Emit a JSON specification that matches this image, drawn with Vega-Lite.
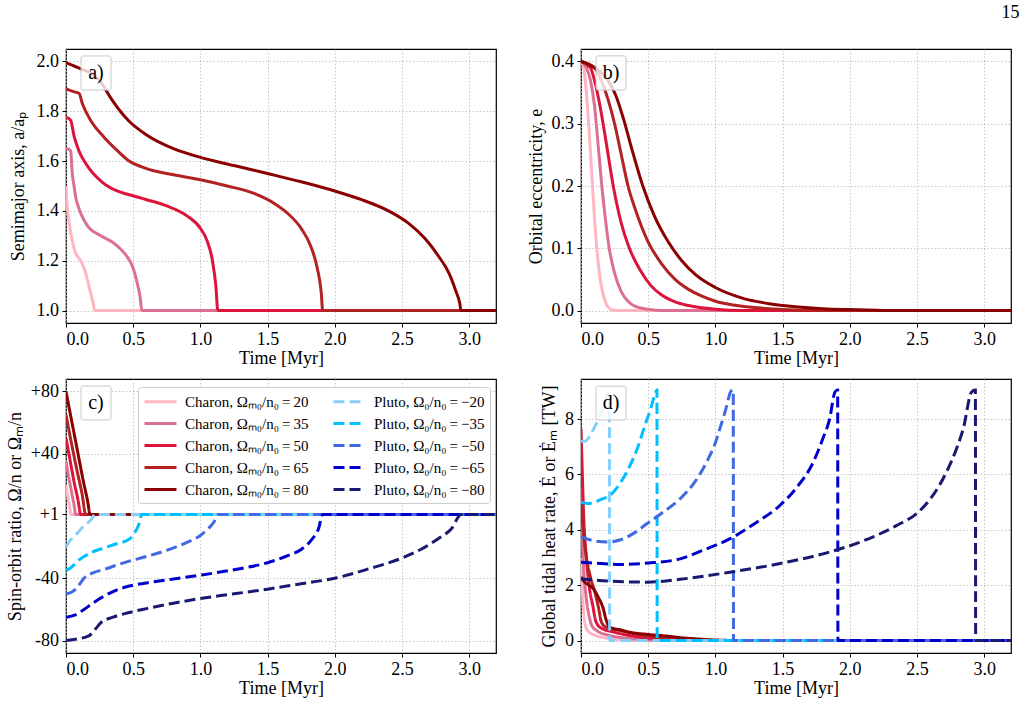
{
"$schema": "https://vega.github.io/schema/vega-lite/v6.json",
"padding": {"left": 5, "top": 4, "right": 5, "bottom": 5},
"background": "white",
"title": {"text": "15", "anchor": "end", "frame": "bounds", "font": "Liberation Serif", "fontSize": 18, "fontWeight": "normal", "color": "black", "offset": 26, "dx": 8},
"config": {
  "view": {"stroke": "black", "strokeWidth": 1.2},
  "style": {"guide-label": {"font": "Liberation Serif", "fill": "black"}, "guide-title": {"font": "Liberation Serif", "fill": "black"}},
  "axis": {"labelFont": "Liberation Serif", "labelFontSize": 18, "labelColor": "black", "titleFont": "Liberation Serif", "titleFontSize": 18, "titleFontWeight": "normal", "titleColor": "black", "tickColor": "black", "tickSize": 4, "domain": false, "gridColor": "#b8b8b8", "gridDash": [1.5, 2], "gridWidth": 0.8, "labelPadding": 3.5},
  "axisY": {"titlePadding": 6},
  "axisX": {"titlePadding": 1},
  "legend": {"labelFont": "Liberation Serif"}
},
"datasets": {
"a": [
{"s":"C20","t":0,"v":1.5},{"s":"C20","t":0.005,"v":1.45},{"s":"C20","t":0.012,"v":1.4},{"s":"C20","t":0.022,"v":1.36},{"s":"C20","t":0.035,"v":1.31},{"s":"C20","t":0.047,"v":1.28},{"s":"C20","t":0.06,"v":1.25},{"s":"C20","t":0.072,"v":1.23},{"s":"C20","t":0.09,"v":1.215},{"s":"C20","t":0.11,"v":1.2},{"s":"C20","t":0.13,"v":1.175},{"s":"C20","t":0.147,"v":1.15},{"s":"C20","t":0.165,"v":1.11},{"s":"C20","t":0.184,"v":1.07},{"s":"C20","t":0.2,"v":1.035},{"s":"C20","t":0.214,"v":1.0},{"s":"C20","t":3.2,"v":1.0},
{"s":"C35","t":0,"v":1.65},{"s":"C35","t":0.02,"v":1.648},{"s":"C35","t":0.035,"v":1.64},{"s":"C35","t":0.047,"v":1.55},{"s":"C35","t":0.06,"v":1.5},{"s":"C35","t":0.072,"v":1.456},{"s":"C35","t":0.09,"v":1.42},{"s":"C35","t":0.11,"v":1.39},{"s":"C35","t":0.16,"v":1.34},{"s":"C35","t":0.26,"v":1.3},{"s":"C35","t":0.357,"v":1.27},{"s":"C35","t":0.4,"v":1.25},{"s":"C35","t":0.45,"v":1.22},{"s":"C35","t":0.5,"v":1.17},{"s":"C35","t":0.53,"v":1.11},{"s":"C35","t":0.55,"v":1.06},{"s":"C35","t":0.565,"v":1.0},{"s":"C35","t":3.2,"v":1.0},
{"s":"C50","t":0,"v":1.776},{"s":"C50","t":0.035,"v":1.763},{"s":"C50","t":0.06,"v":1.7},{"s":"C50","t":0.097,"v":1.64},{"s":"C50","t":0.16,"v":1.58},{"s":"C50","t":0.26,"v":1.52},{"s":"C50","t":0.38,"v":1.48},{"s":"C50","t":0.47,"v":1.465},{"s":"C50","t":0.6,"v":1.445},{"s":"C50","t":0.75,"v":1.42},{"s":"C50","t":0.9,"v":1.38},{"s":"C50","t":1.0,"v":1.33},{"s":"C50","t":1.05,"v":1.28},{"s":"C50","t":1.09,"v":1.2},{"s":"C50","t":1.115,"v":1.1},{"s":"C50","t":1.13,"v":1.0},{"s":"C50","t":3.2,"v":1.0},
{"s":"C65","t":0,"v":1.89},{"s":"C65","t":0.05,"v":1.88},{"s":"C65","t":0.097,"v":1.872},{"s":"C65","t":0.122,"v":1.83},{"s":"C65","t":0.184,"v":1.763},{"s":"C65","t":0.283,"v":1.696},{"s":"C65","t":0.38,"v":1.643},{"s":"C65","t":0.47,"v":1.6},{"s":"C65","t":0.6,"v":1.57},{"s":"C65","t":0.8,"v":1.545},{"s":"C65","t":1.0,"v":1.525},{"s":"C65","t":1.2,"v":1.5},{"s":"C65","t":1.4,"v":1.47},{"s":"C65","t":1.55,"v":1.43},{"s":"C65","t":1.65,"v":1.39},{"s":"C65","t":1.75,"v":1.33},{"s":"C65","t":1.82,"v":1.26},{"s":"C65","t":1.87,"v":1.17},{"s":"C65","t":1.9,"v":1.07},{"s":"C65","t":1.91,"v":1.0},{"s":"C65","t":3.2,"v":1.0},
{"s":"C80","t":0,"v":1.995},{"s":"C80","t":0.11,"v":1.97},{"s":"C80","t":0.21,"v":1.945},{"s":"C80","t":0.26,"v":1.916},{"s":"C80","t":0.33,"v":1.856},{"s":"C80","t":0.41,"v":1.796},{"s":"C80","t":0.47,"v":1.76},{"s":"C80","t":0.6,"v":1.705},{"s":"C80","t":0.8,"v":1.65},{"s":"C80","t":1.0,"v":1.615},{"s":"C80","t":1.25,"v":1.582},{"s":"C80","t":1.5,"v":1.55},{"s":"C80","t":1.75,"v":1.517},{"s":"C80","t":2.0,"v":1.48},{"s":"C80","t":2.2,"v":1.445},{"s":"C80","t":2.4,"v":1.4},{"s":"C80","t":2.55,"v":1.35},{"s":"C80","t":2.67,"v":1.29},{"s":"C80","t":2.77,"v":1.22},{"s":"C80","t":2.85,"v":1.15},{"s":"C80","t":2.9,"v":1.08},{"s":"C80","t":2.93,"v":1.03},{"s":"C80","t":2.94,"v":1.0},{"s":"C80","t":3.2,"v":1.0}
],
"b": [
{"s":"C20","t":0,"v":0.4},{"s":"C20","t":0.02,"v":0.39},{"s":"C20","t":0.04,"v":0.35},{"s":"C20","t":0.06,"v":0.29},{"s":"C20","t":0.08,"v":0.22},{"s":"C20","t":0.1,"v":0.15},{"s":"C20","t":0.12,"v":0.095},{"s":"C20","t":0.14,"v":0.055},{"s":"C20","t":0.16,"v":0.03},{"s":"C20","t":0.18,"v":0.015},{"s":"C20","t":0.2,"v":0.006},{"s":"C20","t":0.23,"v":0.001},{"s":"C20","t":0.3,"v":0},{"s":"C20","t":3.2,"v":0},
{"s":"C35","t":0,"v":0.4},{"s":"C35","t":0.04,"v":0.39},{"s":"C35","t":0.07,"v":0.37},{"s":"C35","t":0.1,"v":0.33},{"s":"C35","t":0.13,"v":0.26},{"s":"C35","t":0.155,"v":0.2},{"s":"C35","t":0.18,"v":0.15},{"s":"C35","t":0.21,"v":0.1},{"s":"C35","t":0.25,"v":0.06},{"s":"C35","t":0.3,"v":0.03},{"s":"C35","t":0.35,"v":0.015},{"s":"C35","t":0.4,"v":0.007},{"s":"C35","t":0.5,"v":0.002},{"s":"C35","t":0.6,"v":0},{"s":"C35","t":3.2,"v":0},
{"s":"C50","t":0,"v":0.4},{"s":"C50","t":0.07,"v":0.39},{"s":"C50","t":0.1,"v":0.37},{"s":"C50","t":0.14,"v":0.33},{"s":"C50","t":0.18,"v":0.28},{"s":"C50","t":0.24,"v":0.2},{"s":"C50","t":0.3,"v":0.14},{"s":"C50","t":0.36,"v":0.1},{"s":"C50","t":0.44,"v":0.065},{"s":"C50","t":0.52,"v":0.04},{"s":"C50","t":0.6,"v":0.025},{"s":"C50","t":0.7,"v":0.014},{"s":"C50","t":0.8,"v":0.008},{"s":"C50","t":1.0,"v":0.002},{"s":"C50","t":1.2,"v":0},{"s":"C50","t":3.2,"v":0},
{"s":"C65","t":0,"v":0.4},{"s":"C65","t":0.1,"v":0.39},{"s":"C65","t":0.15,"v":0.37},{"s":"C65","t":0.2,"v":0.34},{"s":"C65","t":0.25,"v":0.3},{"s":"C65","t":0.3,"v":0.25},{"s":"C65","t":0.35,"v":0.2},{"s":"C65","t":0.4,"v":0.165},{"s":"C65","t":0.5,"v":0.11},{"s":"C65","t":0.6,"v":0.075},{"s":"C65","t":0.7,"v":0.05},{"s":"C65","t":0.8,"v":0.034},{"s":"C65","t":0.9,"v":0.023},{"s":"C65","t":1.0,"v":0.015},{"s":"C65","t":1.2,"v":0.007},{"s":"C65","t":1.4,"v":0.003},{"s":"C65","t":1.6,"v":0.001},{"s":"C65","t":2.0,"v":0},{"s":"C65","t":3.2,"v":0},
{"s":"C80","t":0,"v":0.4},{"s":"C80","t":0.1,"v":0.39},{"s":"C80","t":0.2,"v":0.37},{"s":"C80","t":0.26,"v":0.345},{"s":"C80","t":0.32,"v":0.305},{"s":"C80","t":0.38,"v":0.258},{"s":"C80","t":0.46,"v":0.2},{"s":"C80","t":0.55,"v":0.15},{"s":"C80","t":0.65,"v":0.11},{"s":"C80","t":0.75,"v":0.08},{"s":"C80","t":0.85,"v":0.058},{"s":"C80","t":1.0,"v":0.037},{"s":"C80","t":1.2,"v":0.02},{"s":"C80","t":1.4,"v":0.011},{"s":"C80","t":1.6,"v":0.006},{"s":"C80","t":1.8,"v":0.003},{"s":"C80","t":2.0,"v":0.0015},{"s":"C80","t":2.3,"v":0},{"s":"C80","t":3.2,"v":0}
],
"c": [
{"s":"C20","t":0,"v":20},{"s":"C20","t":0.01,"v":14},{"s":"C20","t":0.02,"v":9},{"s":"C20","t":0.03,"v":4},{"s":"C20","t":0.035,"v":1},{"s":"C20","t":3.2,"v":1},
{"s":"C35","t":0,"v":35},{"s":"C35","t":0.02,"v":25},{"s":"C35","t":0.04,"v":16},{"s":"C35","t":0.06,"v":7},{"s":"C35","t":0.072,"v":1},{"s":"C35","t":3.2,"v":1},
{"s":"C50","t":0,"v":50},{"s":"C50","t":0.03,"v":36},{"s":"C50","t":0.06,"v":22},{"s":"C50","t":0.09,"v":10},{"s":"C50","t":0.11,"v":1},{"s":"C50","t":3.2,"v":1},
{"s":"C65","t":0,"v":65},{"s":"C65","t":0.04,"v":47},{"s":"C65","t":0.08,"v":30},{"s":"C65","t":0.12,"v":14},{"s":"C65","t":0.147,"v":1},{"s":"C65","t":3.2,"v":1},
{"s":"C80","t":0,"v":80},{"s":"C80","t":0.04,"v":62},{"s":"C80","t":0.085,"v":42},{"s":"C80","t":0.13,"v":22},{"s":"C80","t":0.16,"v":10},{"s":"C80","t":0.18,"v":1},{"s":"C80","t":3.2,"v":1},
{"s":"P20","t":0,"v":-20},{"s":"P20","t":0.02,"v":-17},{"s":"P20","t":0.05,"v":-14},{"s":"P20","t":0.085,"v":-11},{"s":"P20","t":0.12,"v":-7.5},{"s":"P20","t":0.16,"v":-4.5},{"s":"P20","t":0.19,"v":-2},{"s":"P20","t":0.214,"v":1},{"s":"P20","t":3.2,"v":1},
{"s":"P35","t":0,"v":-35},{"s":"P35","t":0.03,"v":-33.5},{"s":"P35","t":0.07,"v":-30.5},{"s":"P35","t":0.1,"v":-28},{"s":"P35","t":0.134,"v":-26},{"s":"P35","t":0.2,"v":-23},{"s":"P35","t":0.283,"v":-20.5},{"s":"P35","t":0.37,"v":-18},{"s":"P35","t":0.47,"v":-15},{"s":"P35","t":0.51,"v":-11},{"s":"P35","t":0.54,"v":-6},{"s":"P35","t":0.565,"v":1},{"s":"P35","t":3.2,"v":1},
{"s":"P50","t":0,"v":-50},{"s":"P50","t":0.04,"v":-49},{"s":"P50","t":0.072,"v":-47},{"s":"P50","t":0.1,"v":-44},{"s":"P50","t":0.134,"v":-40},{"s":"P50","t":0.2,"v":-36.5},{"s":"P50","t":0.283,"v":-34.4},{"s":"P50","t":0.38,"v":-31.5},{"s":"P50","t":0.47,"v":-29},{"s":"P50","t":0.6,"v":-26},{"s":"P50","t":0.75,"v":-22},{"s":"P50","t":0.9,"v":-17},{"s":"P50","t":1.0,"v":-12.5},{"s":"P50","t":1.06,"v":-8},{"s":"P50","t":1.1,"v":-4},{"s":"P50","t":1.133,"v":1},{"s":"P50","t":3.2,"v":1},
{"s":"P65","t":0,"v":-65},{"s":"P65","t":0.07,"v":-63.5},{"s":"P65","t":0.134,"v":-60},{"s":"P65","t":0.2,"v":-56},{"s":"P65","t":0.26,"v":-52.6},{"s":"P65","t":0.35,"v":-48.5},{"s":"P65","t":0.47,"v":-45},{"s":"P65","t":0.6,"v":-43},{"s":"P65","t":0.8,"v":-40.5},{"s":"P65","t":1.0,"v":-38},{"s":"P65","t":1.25,"v":-34.5},{"s":"P65","t":1.5,"v":-30},{"s":"P65","t":1.65,"v":-25.5},{"s":"P65","t":1.75,"v":-21.5},{"s":"P65","t":1.83,"v":-15},{"s":"P65","t":1.88,"v":-8},{"s":"P65","t":1.91,"v":1},{"s":"P65","t":3.2,"v":1},
{"s":"P80","t":0,"v":-80},{"s":"P80","t":0.08,"v":-79},{"s":"P80","t":0.17,"v":-77},{"s":"P80","t":0.22,"v":-72.5},{"s":"P80","t":0.26,"v":-68.5},{"s":"P80","t":0.35,"v":-65},{"s":"P80","t":0.47,"v":-62},{"s":"P80","t":0.6,"v":-59.5},{"s":"P80","t":0.8,"v":-56},{"s":"P80","t":1.0,"v":-53},{"s":"P80","t":1.25,"v":-50},{"s":"P80","t":1.5,"v":-47},{"s":"P80","t":1.75,"v":-43.5},{"s":"P80","t":2.0,"v":-40},{"s":"P80","t":2.25,"v":-34},{"s":"P80","t":2.5,"v":-27},{"s":"P80","t":2.65,"v":-21},{"s":"P80","t":2.78,"v":-14},{"s":"P80","t":2.87,"v":-8},{"s":"P80","t":2.94,"v":1},{"s":"P80","t":3.2,"v":1}
],
"d": [
{"s":"C20","t":0,"v":3.0},{"s":"C20","t":0.01,"v":1.8},{"s":"C20","t":0.02,"v":1.0},{"s":"C20","t":0.03,"v":0.6},{"s":"C20","t":0.05,"v":0.35},{"s":"C20","t":0.1,"v":0.2},{"s":"C20","t":0.2,"v":0.08},{"s":"C20","t":0.3,"v":0.03},{"s":"C20","t":0.45,"v":0},{"s":"C20","t":3.2,"v":0},
{"s":"C35","t":0,"v":5.5},{"s":"C35","t":0.01,"v":3.8},{"s":"C35","t":0.02,"v":2.6},{"s":"C35","t":0.04,"v":1.5},{"s":"C35","t":0.06,"v":0.9},{"s":"C35","t":0.08,"v":0.55},{"s":"C35","t":0.12,"v":0.35},{"s":"C35","t":0.2,"v":0.2},{"s":"C35","t":0.35,"v":0.08},{"s":"C35","t":0.5,"v":0.02},{"s":"C35","t":0.65,"v":0},{"s":"C35","t":3.2,"v":0},
{"s":"C50","t":0,"v":7.65},{"s":"C50","t":0.01,"v":6.0},{"s":"C50","t":0.02,"v":4.5},{"s":"C50","t":0.04,"v":3.0},{"s":"C50","t":0.06,"v":2.0},{"s":"C50","t":0.09,"v":1.2},{"s":"C50","t":0.11,"v":0.7},{"s":"C50","t":0.15,"v":0.45},{"s":"C50","t":0.25,"v":0.3},{"s":"C50","t":0.4,"v":0.15},{"s":"C50","t":0.6,"v":0.05},{"s":"C50","t":0.8,"v":0.01},{"s":"C50","t":0.9,"v":0},{"s":"C50","t":3.2,"v":0},
{"s":"C65","t":0,"v":5.0},{"s":"C65","t":0.02,"v":3.8},{"s":"C65","t":0.04,"v":3.0},{"s":"C65","t":0.07,"v":2.3},{"s":"C65","t":0.1,"v":1.8},{"s":"C65","t":0.13,"v":1.2},{"s":"C65","t":0.15,"v":0.7},{"s":"C65","t":0.18,"v":0.5},{"s":"C65","t":0.3,"v":0.35},{"s":"C65","t":0.45,"v":0.2},{"s":"C65","t":0.6,"v":0.1},{"s":"C65","t":0.8,"v":0.03},{"s":"C65","t":1.0,"v":0},{"s":"C65","t":3.2,"v":0},
{"s":"C80","t":0,"v":2.3},{"s":"C80","t":0.03,"v":2.1},{"s":"C80","t":0.06,"v":2.0},{"s":"C80","t":0.092,"v":1.87},{"s":"C80","t":0.13,"v":1.55},{"s":"C80","t":0.166,"v":1.15},{"s":"C80","t":0.185,"v":0.78},{"s":"C80","t":0.216,"v":0.48},{"s":"C80","t":0.3,"v":0.38},{"s":"C80","t":0.365,"v":0.3},{"s":"C80","t":0.5,"v":0.22},{"s":"C80","t":0.64,"v":0.16},{"s":"C80","t":0.75,"v":0.1},{"s":"C80","t":0.86,"v":0.06},{"s":"C80","t":1.0,"v":0.02},{"s":"C80","t":1.2,"v":0},{"s":"C80","t":3.2,"v":0},
{"s":"P20","t":0,"v":7.2},{"s":"P20","t":0.03,"v":7.2},{"s":"P20","t":0.06,"v":7.35},{"s":"P20","t":0.1,"v":7.7},{"s":"P20","t":0.14,"v":8.1},{"s":"P20","t":0.18,"v":8.6},{"s":"P20","t":0.212,"v":9.0},{"s":"P20","t":0.213,"v":0},{"s":"P20","t":3.2,"v":0},
{"s":"P35","t":0,"v":5.0},{"s":"P35","t":0.05,"v":4.95},{"s":"P35","t":0.1,"v":5.0},{"s":"P35","t":0.15,"v":5.1},{"s":"P35","t":0.216,"v":5.25},{"s":"P35","t":0.3,"v":5.75},{"s":"P35","t":0.365,"v":6.33},{"s":"P35","t":0.42,"v":6.95},{"s":"P35","t":0.476,"v":7.78},{"s":"P35","t":0.52,"v":8.4},{"s":"P35","t":0.55,"v":8.9},{"s":"P35","t":0.565,"v":9.05},{"s":"P35","t":0.567,"v":0},{"s":"P35","t":3.2,"v":0},
{"s":"P50","t":0,"v":3.74},{"s":"P50","t":0.1,"v":3.6},{"s":"P50","t":0.2,"v":3.56},{"s":"P50","t":0.3,"v":3.65},{"s":"P50","t":0.4,"v":3.9},{"s":"P50","t":0.49,"v":4.22},{"s":"P50","t":0.6,"v":4.6},{"s":"P50","t":0.737,"v":5.12},{"s":"P50","t":0.85,"v":5.75},{"s":"P50","t":0.935,"v":6.45},{"s":"P50","t":1.0,"v":7.15},{"s":"P50","t":1.034,"v":7.66},{"s":"P50","t":1.08,"v":8.4},{"s":"P50","t":1.115,"v":9.0},{"s":"P50","t":1.133,"v":9.05},{"s":"P50","t":1.135,"v":0},{"s":"P50","t":3.2,"v":0},
{"s":"P65","t":0,"v":2.83},{"s":"P65","t":0.15,"v":2.78},{"s":"P65","t":0.3,"v":2.75},{"s":"P65","t":0.5,"v":2.8},{"s":"P65","t":0.737,"v":2.95},{"s":"P65","t":0.9,"v":3.25},{"s":"P65","t":1.11,"v":3.68},{"s":"P65","t":1.3,"v":4.25},{"s":"P65","t":1.48,"v":4.88},{"s":"P65","t":1.6,"v":5.5},{"s":"P65","t":1.73,"v":6.46},{"s":"P65","t":1.8,"v":7.3},{"s":"P65","t":1.85,"v":8.0},{"s":"P65","t":1.89,"v":8.98},{"s":"P65","t":1.91,"v":9.05},{"s":"P65","t":1.912,"v":0},{"s":"P65","t":3.2,"v":0},
{"s":"P80","t":0,"v":2.23},{"s":"P80","t":0.2,"v":2.15},{"s":"P80","t":0.49,"v":2.11},{"s":"P80","t":0.8,"v":2.25},{"s":"P80","t":1.11,"v":2.47},{"s":"P80","t":1.5,"v":2.8},{"s":"P80","t":1.85,"v":3.2},{"s":"P80","t":2.1,"v":3.6},{"s":"P80","t":2.35,"v":4.16},{"s":"P80","t":2.5,"v":4.6},{"s":"P80","t":2.6,"v":5.12},{"s":"P80","t":2.72,"v":6.09},{"s":"P80","t":2.8,"v":7.0},{"s":"P80","t":2.845,"v":7.66},{"s":"P80","t":2.907,"v":8.98},{"s":"P80","t":2.935,"v":9.05},{"s":"P80","t":2.937,"v":0},{"s":"P80","t":3.2,"v":0}
]
},
"columns": 2,
"spacing": {"row": 56, "column": 85},
"bounds": "flush",
"resolve": {"scale": {"color": "independent", "strokeDash": "independent", "x": "independent", "y": "independent"}},
"concat": [
{
 "width": 430, "height": 274,
 "layer": [
  {"data": {"name": "a"}, "mark": {"type": "line", "strokeWidth": 3, "clip": true, "interpolate": "monotone"},
   "encoding": {
    "x": {"field": "t", "type": "quantitative", "scale": {"domain": [0, 3.2], "nice": false, "zero": false}, "axis": {"values": [0, 0.5, 1, 1.5, 2, 2.5, 3], "format": ".1f", "title": "Time [Myr]", "labelFont": "Liberation Serif"}},
    "y": {"field": "v", "type": "quantitative", "scale": {"domain": [0.95, 2.05], "nice": false, "zero": false}, "axis": {"values": [1, 1.2, 1.4, 1.6, 1.8, 2], "format": ".1f", "title": "Semimajor axis, a/aₚ", "titlePadding": 9, "labelFont": "Liberation Serif"}},
    "color": {"field": "s", "type": "nominal", "scale": {"domain": ["C20","C35","C50","C65","C80","P20","P35","P50","P65","P80"], "range": ["#FFB6C1","#DB7093","#DC143C","#B22222","#8B0000","#87CEFA","#00BFFF","#4169E1","#0000CD","#191970"]}, "legend": null}
   }},
  {"data": {"values": [{"label": "a)"}]}, "mark": {"type": "rect", "fill": "white", "fillOpacity": 0.8, "stroke": "#c8c8c8", "strokeWidth": 1, "cornerRadius": 2},
   "encoding": {"x": {"datum": 0.112, "type": "quantitative"}, "x2": {"datum": 0.335}, "y": {"datum": 2.022, "type": "quantitative"}, "y2": {"datum": 1.885}}},
  {"data": {"values": [{"label": "a)"}]}, "mark": {"type": "text", "font": "Liberation Serif", "fontSize": 20, "color": "black", "align": "center", "baseline": "middle"},
   "encoding": {"x": {"datum": 0.223, "type": "quantitative"}, "y": {"datum": 1.954, "type": "quantitative"}, "text": {"field": "label"}}}
 ]
},
{
 "width": 430, "height": 274,
 "layer": [
  {"data": {"name": "b"}, "mark": {"type": "line", "strokeWidth": 3, "clip": true, "interpolate": "monotone"},
   "encoding": {
    "x": {"field": "t", "type": "quantitative", "scale": {"domain": [0, 3.2], "nice": false, "zero": false}, "axis": {"values": [0, 0.5, 1, 1.5, 2, 2.5, 3], "format": ".1f", "title": "Time [Myr]", "labelFont": "Liberation Serif"}},
    "y": {"field": "v", "type": "quantitative", "scale": {"domain": [-0.02, 0.42], "nice": false, "zero": false}, "axis": {"values": [0, 0.1, 0.2, 0.3, 0.4], "format": ".1f", "title": "Orbital eccentricity, e", "labelFont": "Liberation Serif"}},
    "color": {"field": "s", "type": "nominal", "scale": {"domain": ["C20","C35","C50","C65","C80","P20","P35","P50","P65","P80"], "range": ["#FFB6C1","#DB7093","#DC143C","#B22222","#8B0000","#87CEFA","#00BFFF","#4169E1","#0000CD","#191970"]}, "legend": null}
   }},
  {"data": {"values": [{"label": "b)"}]}, "mark": {"type": "rect", "fill": "white", "fillOpacity": 0.8, "stroke": "#c8c8c8", "strokeWidth": 1, "cornerRadius": 2},
   "encoding": {"x": {"datum": 0.112, "type": "quantitative"}, "x2": {"datum": 0.335}, "y": {"datum": 0.409, "type": "quantitative"}, "y2": {"datum": 0.354}}},
  {"data": {"values": [{"label": "b)"}]}, "mark": {"type": "text", "font": "Liberation Serif", "fontSize": 20, "color": "black", "align": "center", "baseline": "middle"},
   "encoding": {"x": {"datum": 0.223, "type": "quantitative"}, "y": {"datum": 0.382, "type": "quantitative"}, "text": {"field": "label"}}}
 ]
},
{
 "width": 430, "height": 274,
 "layer": [
  {"data": {"name": "c"}, "transform": [{"filter": "datum.s[0] == 'C'"}], "mark": {"type": "line", "strokeWidth": 3, "clip": true, "interpolate": "monotone"},
   "encoding": {
    "x": {"field": "t", "type": "quantitative", "scale": {"domain": [0, 3.2], "nice": false, "zero": false}, "axis": {"values": [0, 0.5, 1, 1.5, 2, 2.5, 3], "format": ".1f", "title": "Time [Myr]", "labelFont": "Liberation Serif"}},
    "y": {"field": "v", "type": "quantitative", "scale": {"domain": [-88, 88], "nice": false, "zero": false}, "axis": {"values": [80, 40, 1, -40, -80], "labelExpr": "datum.value > 0 ? '+' + datum.value : '' + datum.value", "title": "Spin-orbit ratio, Ω/n or Ωₘ/n", "labelFont": "Liberation Serif"}},
    "color": {"field": "s", "type": "nominal", "scale": {"domain": ["C20","C35","C50","C65","C80","P20","P35","P50","P65","P80"], "range": ["#FFB6C1","#DB7093","#DC143C","#B22222","#8B0000","#87CEFA","#00BFFF","#4169E1","#0000CD","#191970"]},
      "legend": {"orient": "none", "legendX": 72, "legendY": 8, "columns": 2, "title": null, "symbolType": "M-2,0H2", "symbolSize": 256, "symbolStrokeWidth": 3, "symbolOffset": 8, "labelFont": "Liberation Serif", "labelFontSize": 15, "labelColor": "black", "labelOffset": 15, "labelLimit": 300, "rowPadding": 4, "columnPadding": 18, "padding": 5, "strokeColor": "#cccccc", "fillColor": "white", "cornerRadius": 3,
       "labelExpr": "datum.label == 'C20' ? 'Charon, Ωₘ₀/n₀\u2009=\u200920' : datum.label == 'C35' ? 'Charon, Ωₘ₀/n₀\u2009=\u200935' : datum.label == 'C50' ? 'Charon, Ωₘ₀/n₀\u2009=\u200950' : datum.label == 'C65' ? 'Charon, Ωₘ₀/n₀\u2009=\u200965' : datum.label == 'C80' ? 'Charon, Ωₘ₀/n₀\u2009=\u200980' : datum.label == 'P20' ? 'Pluto, Ω₀/n₀\u2009=\u2009−20' : datum.label == 'P35' ? 'Pluto, Ω₀/n₀\u2009=\u2009−35' : datum.label == 'P50' ? 'Pluto, Ω₀/n₀\u2009=\u2009−50' : datum.label == 'P65' ? 'Pluto, Ω₀/n₀\u2009=\u2009−65' : 'Pluto, Ω₀/n₀\u2009=\u2009−80'"}},
    "strokeDash": {"field": "s", "type": "nominal", "scale": {"domain": ["C20","C35","C50","C65","C80","P20","P35","P50","P65","P80"], "range": [[1,0],[1,0],[1,0],[1,0],[1,0],[11,5],[11,5],[11,5],[11,5],[11,5]]},
      "legend": {"orient": "none", "legendX": 72, "legendY": 8, "columns": 2, "title": null, "symbolType": "M-2,0H2", "symbolSize": 256, "symbolStrokeWidth": 3, "symbolOffset": 8, "labelFont": "Liberation Serif", "labelFontSize": 15, "labelColor": "black", "labelOffset": 15, "labelLimit": 300, "rowPadding": 4, "columnPadding": 18, "padding": 5, "strokeColor": "#cccccc", "fillColor": "white", "cornerRadius": 3,
       "labelExpr": "datum.label == 'C20' ? 'Charon, Ωₘ₀/n₀\u2009=\u200920' : datum.label == 'C35' ? 'Charon, Ωₘ₀/n₀\u2009=\u200935' : datum.label == 'C50' ? 'Charon, Ωₘ₀/n₀\u2009=\u200950' : datum.label == 'C65' ? 'Charon, Ωₘ₀/n₀\u2009=\u200965' : datum.label == 'C80' ? 'Charon, Ωₘ₀/n₀\u2009=\u200980' : datum.label == 'P20' ? 'Pluto, Ω₀/n₀\u2009=\u2009−20' : datum.label == 'P35' ? 'Pluto, Ω₀/n₀\u2009=\u2009−35' : datum.label == 'P50' ? 'Pluto, Ω₀/n₀\u2009=\u2009−50' : datum.label == 'P65' ? 'Pluto, Ω₀/n₀\u2009=\u2009−65' : 'Pluto, Ω₀/n₀\u2009=\u2009−80'"}}
   }},
  {"data": {"name": "c"}, "transform": [{"filter": "datum.s[0] == 'P'"}], "mark": {"type": "line", "strokeWidth": 3, "clip": true, "interpolate": "monotone"},
   "encoding": {
    "x": {"field": "t", "type": "quantitative"},
    "y": {"field": "v", "type": "quantitative"},
    "color": {"field": "s", "type": "nominal"},
    "strokeDash": {"field": "s", "type": "nominal"}
   }},
  {"data": {"values": [{"label": "c)"}]}, "mark": {"type": "rect", "fill": "white", "fillOpacity": 0.8, "stroke": "#c8c8c8", "strokeWidth": 1, "cornerRadius": 2},
   "encoding": {"x": {"datum": 0.112, "type": "quantitative"}, "x2": {"datum": 0.335}, "y": {"datum": 83.5, "type": "quantitative"}, "y2": {"datum": 61.7}}},
  {"data": {"values": [{"label": "c)"}]}, "mark": {"type": "text", "font": "Liberation Serif", "fontSize": 20, "color": "black", "align": "center", "baseline": "middle"},
   "encoding": {"x": {"datum": 0.223, "type": "quantitative"}, "y": {"datum": 72.6, "type": "quantitative"}, "text": {"field": "label"}}}
 ]
},
{
 "width": 430, "height": 274,
 "layer": [
  {"data": {"name": "d"}, "transform": [{"filter": "datum.s[0] == 'C'"}], "mark": {"type": "line", "strokeWidth": 3, "clip": true, "interpolate": "monotone"},
   "encoding": {
    "x": {"field": "t", "type": "quantitative", "scale": {"domain": [0, 3.2], "nice": false, "zero": false}, "axis": {"values": [0, 0.5, 1, 1.5, 2, 2.5, 3], "format": ".1f", "title": "Time [Myr]", "labelFont": "Liberation Serif"}},
    "y": {"field": "v", "type": "quantitative", "scale": {"domain": [-0.45, 9.45], "nice": false, "zero": false}, "axis": {"values": [0, 2, 4, 6, 8], "format": "d", "title": "Global tidal heat rate, Ė or Ėₘ [TW]", "labelFont": "Liberation Serif"}},
    "color": {"field": "s", "type": "nominal", "scale": {"domain": ["C20","C35","C50","C65","C80","P20","P35","P50","P65","P80"], "range": ["#FFB6C1","#DB7093","#DC143C","#B22222","#8B0000","#87CEFA","#00BFFF","#4169E1","#0000CD","#191970"]}, "legend": null},
    "strokeDash": {"field": "s", "type": "nominal", "scale": {"domain": ["C20","C35","C50","C65","C80","P20","P35","P50","P65","P80"], "range": [[1,0],[1,0],[1,0],[1,0],[1,0],[11,5],[11,5],[11,5],[11,5],[11,5]]}, "legend": null}
   }},
  {"data": {"name": "d"}, "transform": [{"filter": "datum.s[0] == 'P'"}], "mark": {"type": "line", "strokeWidth": 3, "clip": true, "interpolate": "monotone"},
   "encoding": {
    "x": {"field": "t", "type": "quantitative"},
    "y": {"field": "v", "type": "quantitative"},
    "color": {"field": "s", "type": "nominal"},
    "strokeDash": {"field": "s", "type": "nominal"}
   }},
  {"data": {"values": [{"label": "d)"}]}, "mark": {"type": "rect", "fill": "white", "fillOpacity": 0.8, "stroke": "#c8c8c8", "strokeWidth": 1, "cornerRadius": 2},
   "encoding": {"x": {"datum": 0.112, "type": "quantitative"}, "x2": {"datum": 0.335}, "y": {"datum": 9.19, "type": "quantitative"}, "y2": {"datum": 7.969}}},
  {"data": {"values": [{"label": "d)"}]}, "mark": {"type": "text", "font": "Liberation Serif", "fontSize": 20, "color": "black", "align": "center", "baseline": "middle"},
   "encoding": {"x": {"datum": 0.223, "type": "quantitative"}, "y": {"datum": 8.58, "type": "quantitative"}, "text": {"field": "label"}}}
 ]
}
]
}
